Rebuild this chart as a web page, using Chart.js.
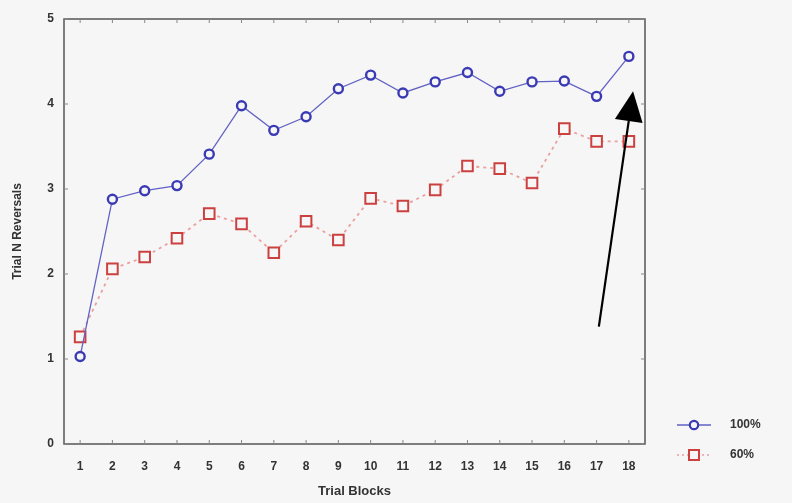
<!DOCTYPE html>
<html>
<head>
<meta charset="utf-8">
<script src="https://cdn.jsdelivr.net/npm/chart.js@4.4.1/dist/chart.umd.min.js"></script>
<style>
  html, body { margin: 0; padding: 0; background: #f6f6f6; }
  #wrap { width: 792px; height: 503px; }
</style>
</head>
<body>
<div id="wrap"><canvas id="chart" width="792" height="503"></canvas></div>
<script>
// ---- data ----
const blocks = ["1","2","3","4","5","6","7","8","9","10","11","12","13","14","15","16","17","18"];
const full100 = [1.03, 2.88, 2.98, 3.04, 3.41, 3.98, 3.69, 3.85, 4.18, 4.34, 4.13, 4.26, 4.37, 4.15, 4.26, 4.27, 4.09, 4.56];
const part60 = [1.26, 2.06, 2.20, 2.42, 2.71, 2.59, 2.25, 2.62, 2.40, 2.89, 2.80, 2.99, 3.27, 3.24, 3.07, 3.71, 3.56, 3.56];
const yTicks = [0, 1, 2, 3, 4, 5];
const seriesNames = ["100%", "60%"];
// arrow annotation in data units: [x index, y value]
const arrowFrom = [16.07, 1.38];
const arrowTo = [17.13, 4.15];

const FONT = "'Liberation Sans', Arial, sans-serif";
const TXT = "#333";
const BLUE = "#3a3ab4";
const BLUE_LINE = "#6262c4";
const RED = "#cc4040";
const RED_LINE = "#eaa0a0";

// frame + inward ticks, arrow, legend
const extras = {
  id: "extras",
  afterDatasetsDraw(chart) {
    const { ctx, chartArea: a, scales } = chart;
    const xs = scales.x, ys = scales.y;
    ctx.save();
    ctx.strokeStyle = "#555";
    ctx.lineWidth = 1.5;
    ctx.strokeRect(a.left, a.top, a.right - a.left, a.bottom - a.top);
    ctx.lineWidth = 1;
    ctx.strokeStyle = "#888";
    ctx.beginPath();
    blocks.forEach((b, i) => {
      const px = xs.getPixelForValue(i);
      ctx.moveTo(px, a.bottom); ctx.lineTo(px, a.bottom - 4);
      ctx.moveTo(px, a.top); ctx.lineTo(px, a.top + 4);
    });
    yTicks.forEach(v => {
      const py = ys.getPixelForValue(v);
      ctx.moveTo(a.left, py); ctx.lineTo(a.left + 4, py);
      ctx.moveTo(a.right, py); ctx.lineTo(a.right - 4, py);
    });
    ctx.stroke();

    // arrow
    const x0 = xs.getPixelForValue(arrowFrom[0]), y0 = ys.getPixelForValue(arrowFrom[1]);
    const x1 = xs.getPixelForValue(arrowTo[0]), y1 = ys.getPixelForValue(arrowTo[1]);
    const ang = Math.atan2(y1 - y0, x1 - x0);
    const headLen = 30, headHalf = 14;
    const bx = x1 - headLen * Math.cos(ang), by = y1 - headLen * Math.sin(ang);
    ctx.strokeStyle = "#000";
    ctx.fillStyle = "#000";
    ctx.lineWidth = 2.2;
    ctx.beginPath();
    ctx.moveTo(x0, y0); ctx.lineTo(bx, by);
    ctx.stroke();
    ctx.beginPath();
    ctx.moveTo(x1, y1);
    ctx.lineTo(bx + headHalf * Math.sin(ang), by - headHalf * Math.cos(ang));
    ctx.lineTo(bx - headHalf * Math.sin(ang), by + headHalf * Math.cos(ang));
    ctx.closePath();
    ctx.fill();

    // legend
    const lx = a.right + 32, ty = [425, 455];
    ctx.font = "bold 12px " + FONT;
    ctx.textBaseline = "middle";
    ctx.textAlign = "left";
    // 100%
    ctx.strokeStyle = BLUE_LINE; ctx.lineWidth = 1.3; ctx.setLineDash([]);
    ctx.beginPath(); ctx.moveTo(lx, ty[0]); ctx.lineTo(lx + 34, ty[0]); ctx.stroke();
    ctx.fillStyle = "#f6f6f6"; ctx.strokeStyle = BLUE; ctx.lineWidth = 2.2;
    ctx.beginPath(); ctx.arc(lx + 17, ty[0], 4.2, 0, Math.PI * 2); ctx.fill(); ctx.stroke();
    // 60%
    ctx.strokeStyle = RED_LINE; ctx.lineWidth = 1.5; ctx.setLineDash([2, 3]);
    ctx.beginPath(); ctx.moveTo(lx, ty[1]); ctx.lineTo(lx + 34, ty[1]); ctx.stroke();
    ctx.setLineDash([]);
    ctx.strokeStyle = RED; ctx.lineWidth = 2;
    ctx.fillRect(lx + 12, ty[1] - 5, 10, 10);
    ctx.strokeRect(lx + 12, ty[1] - 5, 10, 10);
    ctx.fillStyle = TXT;
    ctx.fillText(seriesNames[0], lx + 53, ty[0]);
    ctx.fillText(seriesNames[1], lx + 53, ty[1]);
    ctx.restore();
  }
};

new Chart(document.getElementById("chart"), {
  type: "line",
  data: {
    labels: blocks,
    datasets: [
      {
        label: seriesNames[0],
        data: full100,
        borderColor: BLUE_LINE,
        borderWidth: 1.3,
        pointStyle: "circle",
        pointRadius: 4.5,
        pointBorderWidth: 2.4,
        pointBorderColor: BLUE,
        pointBackgroundColor: "#f6f6f6",
        tension: 0
      },
      {
        label: seriesNames[1],
        data: part60,
        borderColor: RED_LINE,
        borderWidth: 1.8,
        borderDash: [3, 4],
        pointStyle: "rect",
        pointRadius: 7.5,
        pointBorderWidth: 2,
        pointBorderColor: RED,
        pointBackgroundColor: "#f6f6f6",
        tension: 0
      }
    ]
  },
  options: {
    responsive: false,
    animation: false,
    layout: { padding: { left: 0, top: 19, right: 147, bottom: 0 } },
    plugins: { legend: { display: false }, tooltip: { enabled: false } },
    scales: {
      x: {
        type: "category",
        offset: true,
        grid: { display: false, drawTicks: false },
        border: { display: false },
        ticks: { color: TXT, font: { family: FONT, size: 12, weight: "bold" }, padding: 15, maxRotation: 0, autoSkip: false },
        title: { display: true, text: "Trial Blocks", color: TXT, font: { family: FONT, size: 13, weight: "bold" }, padding: { top: 12 } },
        afterFit(s) { s.height = 59; }
      },
      y: {
        min: 0,
        max: 5,
        afterBuildTicks(s) { s.ticks = yTicks.map(v => ({ value: v })); },
        grid: { display: false, drawTicks: false },
        border: { display: false },
        ticks: { color: TXT, font: { family: FONT, size: 12, weight: "bold" }, padding: 10 },
        title: { display: true, text: "Trial N Reversals", color: TXT, font: { family: FONT, size: 12, weight: "bold" }, padding: { bottom: 0, top: 10 } },
        afterFit(s) { s.width = 64; }
      }
    }
  },
  plugins: [extras]
});
</script>
</body>
</html>
